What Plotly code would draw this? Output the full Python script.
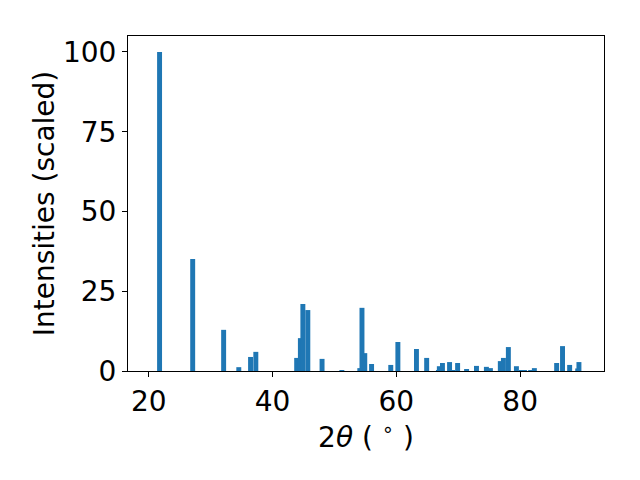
import plotly.graph_objects as go

two_theta = [21.75, 27.1, 32.1, 34.55, 36.45, 37.3, 43.9, 44.5, 44.9, 45.7, 48.0, 51.2,
             54.1, 54.45, 54.9, 56.0, 59.1, 60.25, 63.25, 64.9, 66.8, 66.95, 67.45, 68.6,
             69.1, 69.9, 71.35, 72.95, 74.55, 75.2, 76.8, 77.3, 78.1, 79.4, 80.2, 80.7,
             81.7, 82.3, 85.9, 86.85, 88.0, 89.3, 89.5]
intensity = [100, 35.1, 12.9, 1.2, 4.4, 6.0, 4.1, 10.3, 21.0, 19.1, 3.8, 0.3,
             0.9, 19.8, 5.6, 2.2, 1.9, 9.1, 6.9, 4.1, 0.3, 1.5, 2.5, 2.8,
             0.3, 2.5, 0.4, 1.6, 1.3, 0.9, 3.1, 4.1, 7.5, 1.5, 0.3, 0.3,
             0.3, 0.9, 2.5, 7.8, 1.9, 0.8, 2.8]
x_ticks = [20, 40, 60, 80]
y_ticks = [0, 25, 50, 75, 100]

fig = go.Figure(go.Bar(x=two_theta, y=intensity, width=0.8,
                       marker=dict(color="#1f77b4", line=dict(width=0))))

font = dict(family="DejaVu Sans", size=28, color="black")
fig.update_layout(
    width=640, height=480,
    margin=dict(l=128, r=36, t=36, b=109),
    paper_bgcolor="white", plot_bgcolor="white",
    font=font, showlegend=False, barmode="overlay",
)
fig.update_xaxes(range=[16.65, 93.55], tickvals=x_ticks, ticks="outside", ticklen=5,
                 tickwidth=1, tickcolor="black", showline=True, linecolor="black",
                 linewidth=1, mirror=True, showgrid=False, zeroline=False,
                 automargin=False, tickfont=font,
                 title=dict(text="2<i>θ</i> ( <sup>∘</sup> )", font=font, standoff=0))
fig.update_yaxes(range=[0, 105], tickvals=y_ticks, ticks="outside", ticklen=5,
                 tickwidth=1, tickcolor="black", showline=True, linecolor="black",
                 linewidth=1, mirror=True, showgrid=False, zeroline=False,
                 automargin=False, tickfont=font,
                 title=dict(text="Intensities (scaled)", font=font, standoff=0))

fig.write_html("out.html", config={"displayModeBar": False},
               post_script="document.body.style.margin='0';")
